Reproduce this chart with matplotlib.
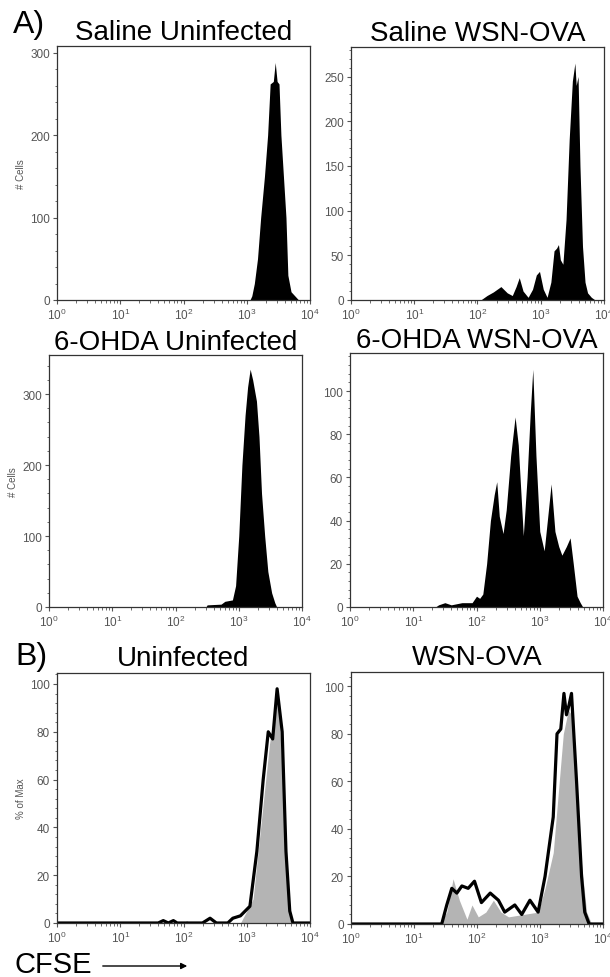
import matplotlib
matplotlib.use("agg")
import matplotlib.pyplot as plt
import numpy as np
from matplotlib.ticker import AutoMinorLocator, LogLocator, NullFormatter

plt.rcParams["font.family"] = ["Liberation Sans", "DejaVu Sans"]

# CFSE intensity as log10 exponent, counts
sal_uninf_log = [3.05, 3.08, 3.12, 3.17, 3.22, 3.28, 3.33, 3.37, 3.42, 3.45, 3.48, 3.51,
                 3.54, 3.58, 3.62, 3.65, 3.70, 3.76, 3.82]
sal_uninf_cnt = [0, 5, 20, 50, 100, 150, 200, 262, 265, 288, 265, 262,
                 200, 150, 100, 30, 10, 5, 0]

sal_wsn_log = [2.05, 2.15, 2.25, 2.37, 2.47, 2.55, 2.61, 2.66, 2.72, 2.80, 2.87, 2.93, 2.98,
               3.04, 3.10, 3.16, 3.21, 3.25, 3.28, 3.31, 3.35, 3.40, 3.45, 3.50, 3.54,
               3.56, 3.59, 3.62, 3.66, 3.70, 3.74, 3.80, 3.86]
sal_wsn_cnt = [0, 5, 9, 15, 8, 5, 15, 25, 10, 3, 12, 28, 32,
               12, 3, 20, 55, 58, 62, 45, 40, 90, 180, 245, 265,
               240, 250, 150, 60, 20, 8, 3, 0]

ohda_uninf_log = [2.48, 2.50, 2.72, 2.78, 2.90, 2.95, 3.00, 3.05, 3.10, 3.14, 3.18, 3.22,
                  3.28, 3.32, 3.36, 3.41, 3.46, 3.52, 3.57, 3.60]
ohda_uninf_cnt = [0, 3, 4, 8, 10, 30, 100, 200, 270, 310, 335, 320,
                  290, 240, 160, 100, 50, 20, 6, 0]

ohda_wsn_log = [1.35, 1.40, 1.50, 1.60, 1.77, 1.93, 2.00, 2.05, 2.10, 2.16, 2.22, 2.28, 2.32,
                2.36, 2.42, 2.47, 2.54, 2.61, 2.66, 2.74, 2.80, 2.85, 2.89, 2.94, 3.00,
                3.07, 3.12, 3.18, 3.24, 3.30, 3.35, 3.42, 3.48, 3.53, 3.59, 3.64, 3.68]
ohda_wsn_cnt = [0, 1, 2, 1, 2, 2, 5, 4, 6, 20, 40, 52, 58,
                42, 34, 45, 70, 88, 75, 33, 60, 90, 110, 70, 35,
                26, 40, 57, 35, 28, 24, 28, 32, 20, 5, 2, 0]

# B) % of max, black line = treated, grey fill = control
b_uninf_line_log = [0.0, 1.60, 1.68, 1.76, 1.84, 1.90, 1.96, 2.30, 2.42, 2.52, 2.70, 2.78,
                    2.90, 3.05, 3.16, 3.26, 3.34, 3.41, 3.48, 3.56, 3.62, 3.68, 3.73, 4.0]
b_uninf_line_pct = [0, 0, 1, 0, 1, 0, 0, 0, 2, 0, 0, 2,
                    3, 7, 30, 60, 80, 77, 98, 80, 30, 5, 0, 0]
b_uninf_fill_log = [2.00, 2.05, 2.10, 2.90, 3.10, 3.26, 3.36, 3.45, 3.50, 3.59, 3.65, 3.70]
b_uninf_fill_pct = [0, 1, 0, 0, 10, 50, 75, 90, 93, 50, 10, 0]

b_wsn_line_log = [0.0, 1.44, 1.52, 1.60, 1.68, 1.76, 1.86, 1.96, 2.07, 2.21, 2.34, 2.44,
                  2.60, 2.71, 2.84, 2.97, 3.08, 3.21, 3.27, 3.33, 3.38, 3.42, 3.46, 3.50,
                  3.58, 3.66, 3.71, 3.78, 4.0]
b_wsn_line_pct = [0, 0, 8, 15, 13, 16, 15, 18, 9, 13, 10, 5,
                  8, 4, 10, 5, 20, 45, 80, 82, 97, 88, 92, 97,
                  60, 20, 5, 0, 0]
b_wsn_fill_log = [1.40, 1.52, 1.62, 1.72, 1.84, 1.92, 2.02, 2.14, 2.26, 2.38, 2.50,
                  2.97, 3.08, 3.21, 3.29, 3.37, 3.45, 3.50, 3.56, 3.66, 3.74, 3.82]
b_wsn_fill_pct = [0, 5, 19, 10, 2, 8, 3, 5, 10, 5, 3,
                  5, 15, 30, 55, 80, 90, 88, 60, 25, 5, 0]

titles = ["Saline Uninfected", "Saline WSN-OVA", "6-OHDA Uninfected",
          "6-OHDA WSN-OVA", "Uninfected", "WSN-OVA"]
ylims = [308, 283, 355, 117.6, 104.6, 106]
yticks = [[0, 100, 200, 300], [0, 50, 100, 150, 200, 250], [0, 100, 200, 300],
          [0, 20, 40, 60, 80, 100], [0, 20, 40, 60, 80, 100], [0, 20, 40, 60, 80, 100]]
ylabels = ["# Cells", "", "# Cells", "", "% of Max", ""]
title_pads = [5, 5, 3, 3, 6, 6]

W, H = 610, 978
# axes boxes in pixels: left, top, right, bottom
boxes = [(57, 47, 310, 301), (351, 48, 604, 301), (49, 356, 302, 608),
         (350, 354, 603, 608), (57, 674, 310, 924), (351, 673, 603, 925)]

fig = plt.figure(figsize=(W / 100, H / 100), dpi=100)
axes = []
for (l, t, r, b) in boxes:
    axes.append(fig.add_axes([l / W, 1 - b / H, (r - l) / W, (b - t) / H]))

grey = "#555555"
for i, ax in enumerate(axes):
    ax.set_xscale("log")
    ax.set_xlim(1, 1e4)
    ax.set_ylim(0, ylims[i])
    ax.set_yticks(yticks[i])
    ax.yaxis.set_minor_locator(AutoMinorLocator(5))
    ax.xaxis.set_major_locator(LogLocator(base=10, numticks=10))
    ax.xaxis.set_minor_locator(LogLocator(base=10, subs=np.arange(2, 10), numticks=20))
    ax.xaxis.set_minor_formatter(NullFormatter())
    ax.tick_params(axis="both", which="major", labelsize=8.5, colors=grey, length=3,
                   width=0.8, labelcolor=grey, pad=2)
    ax.tick_params(axis="both", which="minor", length=1.8, width=0.6, colors=grey)
    for s in ax.spines.values():
        s.set_color("#333333")
        s.set_linewidth(0.9)
    ax.set_title(titles[i], fontsize=20, pad=title_pads[i])
    if ylabels[i]:
        ax.set_ylabel(ylabels[i], fontsize=7, color=grey, labelpad=3)

axes[0].fill_between(10 ** np.array(sal_uninf_log), sal_uninf_cnt, color="black", lw=0)
axes[1].fill_between(10 ** np.array(sal_wsn_log), sal_wsn_cnt, color="black", lw=0)
axes[2].fill_between(10 ** np.array(ohda_uninf_log), ohda_uninf_cnt, color="black", lw=0)
axes[3].fill_between(10 ** np.array(ohda_wsn_log), ohda_wsn_cnt, color="black", lw=0)

axes[4].fill_between(10 ** np.array(b_uninf_fill_log), b_uninf_fill_pct, color="#b4b4b4", lw=0)
axes[4].plot(10 ** np.array(b_uninf_line_log), b_uninf_line_pct, color="black", lw=2.3)
axes[5].fill_between(10 ** np.array(b_wsn_fill_log), b_wsn_fill_pct, color="#b4b4b4", lw=0)
axes[5].plot(10 ** np.array(b_wsn_line_log), b_wsn_line_pct, color="black", lw=2.3)

fig.text(13 / W, 1 - 33 / H, "A)", fontsize=23)
fig.text(15 / W, 1 - 665 / H, "B)", fontsize=23)
fig.text(15 / W, 1 - 973 / H, "CFSE", fontsize=21)
fig.add_artist(matplotlib.patches.FancyArrowPatch(
    (100 / W, 1 - 967 / H), (190 / W, 1 - 967 / H), transform=fig.transFigure,
    arrowstyle="-|>", mutation_scale=9, color="black", lw=1))

fig.savefig("out.png", dpi=100)
plt.close(fig)
